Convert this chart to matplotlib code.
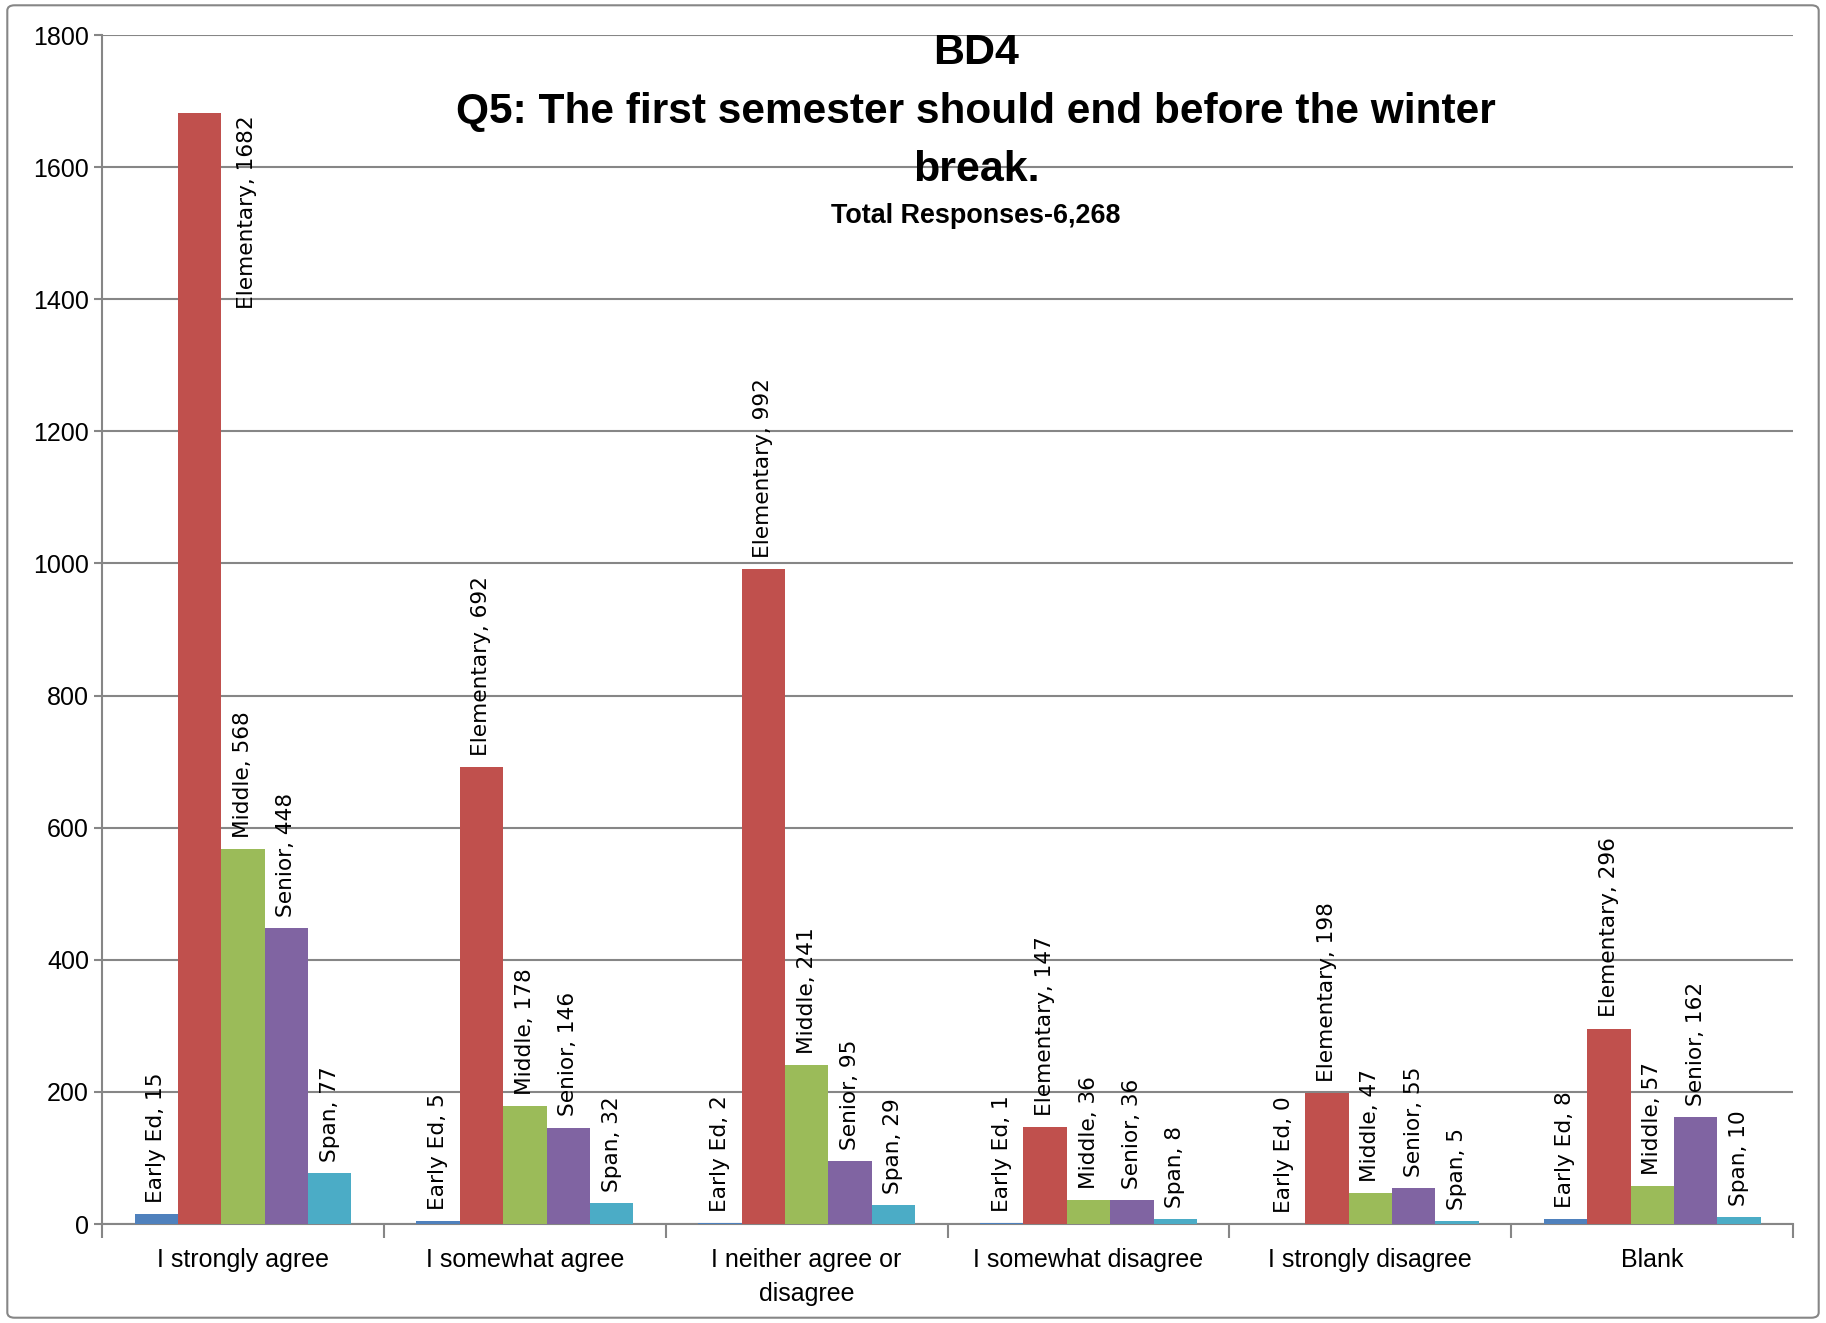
import matplotlib
matplotlib.use("Agg")
import matplotlib.pyplot as plt
import numpy as np
from matplotlib.patches import FancyBboxPatch

categories = ["I strongly agree", "I somewhat agree", "I neither agree or\ndisagree",
              "I somewhat disagree", "I strongly disagree", "Blank"]
series = ["Early Ed", "Elementary", "Middle", "Senior", "Span"]
early_ed = [15, 5, 2, 1, 0, 8]
elementary = [1682, 692, 992, 147, 198, 296]
middle = [568, 178, 241, 36, 47, 57]
senior = [448, 146, 95, 36, 55, 162]
span = [77, 32, 29, 8, 5, 10]
values = [early_ed, elementary, middle, senior, span]
colors = ["#4F81BD", "#C0504D", "#9BBB59", "#8064A2", "#4BACC6"]

narrow = ["Liberation Sans", "DejaVu Sans"]

fig = plt.figure(figsize=(18.26, 13.23), dpi=100)
ax = fig.add_axes([0.0559, 0.0748, 0.9261, 0.8987])

# outer chart border
fig.patches.append(FancyBboxPatch((0.004, 0.004), 0.992, 0.992, boxstyle="round,pad=0,rounding_size=0.004",
                                  transform=fig.transFigure, fill=False, edgecolor="#868686", linewidth=1.5))

x = np.arange(len(categories))
w = 1 / 6.5
labels = []
for j, (name, vals, c) in enumerate(zip(series, values, colors)):
    pos = x + (j - 2) * w
    ax.bar(pos, vals, width=w, color=c, zorder=3)
    for px, v in zip(pos, vals):
        t = ax.annotate(f"{name}, {v}", (px, v), xytext=(0, 8), textcoords="offset points",
                        rotation=90, ha="center", va="bottom", fontsize=15.6,
                        family="DejaVu Sans", zorder=4)
        labels.append((t, px, v))

ax.set_ylim(0, 1800)
ax.set_xlim(-0.5, len(categories) - 0.5)
ax.set_yticks(np.arange(0, 1801, 200))
ax.yaxis.grid(True, color="#868686", linewidth=1.5, zorder=0)
for s in ["top", "right"]:
    ax.spines[s].set_visible(False)
for s in ["left", "bottom"]:
    ax.spines[s].set_color("#868686")
    ax.spines[s].set_linewidth(1.5)
ax.tick_params(axis="y", colors="#868686", length=6, width=1.5, labelcolor="black", labelsize=18)
ax.set_xticks(x)
ax.set_xticklabels(categories, fontsize=18, linespacing=1.55)
ax.tick_params(axis="x", length=0, pad=17)
ax.set_xticks(np.arange(-0.5, len(categories)), minor=True)
ax.tick_params(axis="x", which="minor", length=10, width=1.5, colors="#868686")
for lab in ax.get_xticklabels() + ax.get_yticklabels():
    lab.set_family(narrow)

# labels that run past the top are moved beside the bar
fig.canvas.draw()
r = fig.canvas.get_renderer()
top = ax.get_window_extent(r).y1
for t, px, v in labels:
    if t.get_window_extent(r).y1 > top:
        t.xy = (px + w * 1.1, v)
        t.xyann = (0, -2)
        t.set_va("top")

fig.text(0.5345, 0.960, "BD4", ha="center", va="center", fontsize=31, fontweight="bold", family=narrow)
fig.text(0.5345, 0.9155, "Q5: The first semester should end before the winter", ha="center", va="center",
         fontsize=30.5, fontweight="bold", family=narrow)
fig.text(0.5345, 0.8715, "break.", ha="center", va="center", fontsize=31, fontweight="bold", family=narrow)
fig.text(0.5345, 0.837, "Total Responses-6,268", ha="center", va="center", fontsize=19.4, fontweight="bold",
         family=narrow)

fig.savefig("out.png", dpi=100)
